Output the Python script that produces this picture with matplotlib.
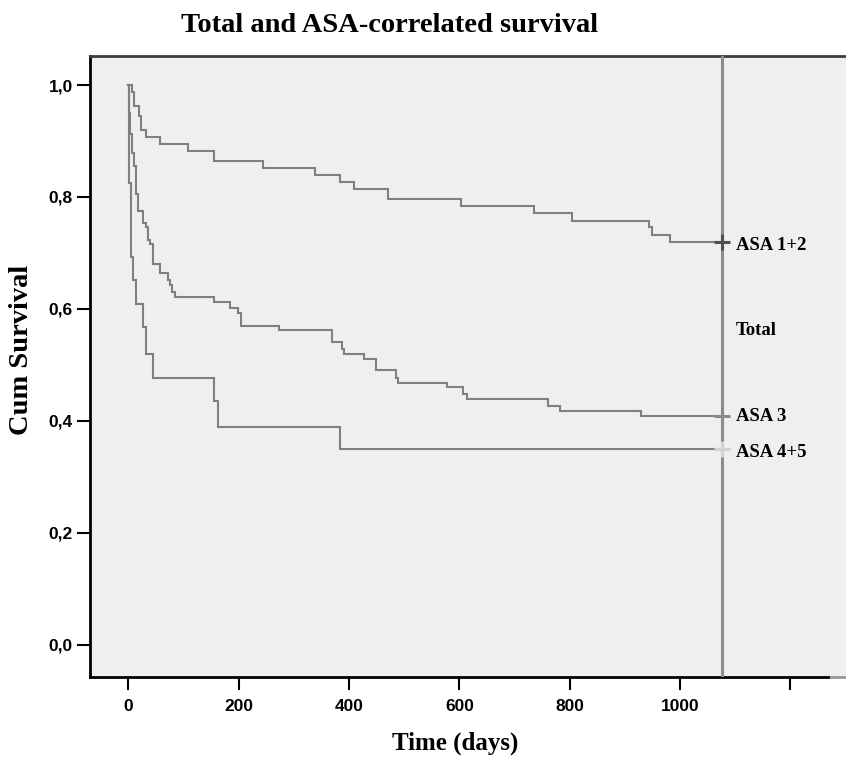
import matplotlib

matplotlib.use("Agg")
import matplotlib.pyplot as plt

# Kaplan-Meier step points (day of drop, survival after the drop)
asa12_days = [0, 5.7, 9.4, 18.4, 22, 31, 58, 107, 155, 243, 339, 383.5, 409.5,
              471, 603, 735, 805, 943, 949, 981]
asa12_surv = [1.0, 0.988, 0.962, 0.945, 0.920, 0.907, 0.894, 0.882, 0.864, 0.851,
              0.839, 0.826, 0.814, 0.796, 0.783, 0.771, 0.757, 0.746, 0.732, 0.719]

asa3_days = [0, 1, 3, 5.7, 9.4, 13, 17.8, 25.7, 31.1, 34.8, 39.6, 43.8, 57.1, 71,
             75.2, 78.9, 84.3, 155, 184, 198.5, 203.4, 272.8, 369.6, 386.5, 390.7,
             427.6, 448.8, 485, 489, 577, 607, 614.3, 761, 782, 929]
asa3_surv = [1.0, 0.95, 0.912, 0.878, 0.855, 0.805, 0.775, 0.754, 0.746, 0.724,
             0.716, 0.681, 0.664, 0.651, 0.642, 0.631, 0.622, 0.613, 0.601, 0.592,
             0.570, 0.562, 0.541, 0.529, 0.520, 0.511, 0.490, 0.477, 0.468, 0.460,
             0.448, 0.439, 0.426, 0.418, 0.409]

asa45_days = [0, 0.3, 1, 4.5, 8.8, 13, 27, 31, 43.8, 155, 162, 383.5]
asa45_surv = [1.0, 0.912, 0.825, 0.693, 0.651, 0.609, 0.567, 0.519, 0.477, 0.435,
              0.388, 0.350]

censor_day = 1077
curve_names = ["ASA 1+2", "ASA 3", "ASA 4+5"]
censor_colors = ["#505050", "#8a8a8a", "#d2d2d2"]
label_levels = [0.713, 0.407, 0.343]
total_label_level = 0.561

x_ticks = [0, 200, 400, 600, 800, 1000, 1200]
x_tick_labels = ["0", "200", "400", "600", "800", "1000", ""]
y_ticks = [0.0, 0.2, 0.4, 0.6, 0.8, 1.0]
y_tick_labels = ["0,0", "0,2", "0,4", "0,6", "0,8", "1,0"]

serif = "Liberation Serif"
sans = "Liberation Sans"

fig = plt.figure(figsize=(8.46, 7.62), dpi=100)
ax = fig.add_axes([90 / 846, 1 - 677 / 762, 756 / 846, 621 / 762])
ax.set_facecolor("#efefef")

series = [(asa12_days, asa12_surv), (asa3_days, asa3_surv), (asa45_days, asa45_surv)]
for (days, surv), color in zip(series, censor_colors):
    ax.step(days + [censor_day], surv + [surv[-1]], where="post",
            color="#808080", linewidth=1.5, solid_joinstyle="miter")

ax.axvline(censor_day, color="#8c8c8c", linewidth=2.2, zorder=3)

for (days, surv), color in zip(series, censor_colors):
    ax.plot([censor_day], [surv[-1]], marker="+", color=color, markersize=12,
            markeredgewidth=2.2, zorder=4)

for name, level in zip(curve_names, label_levels):
    ax.text(censor_day + 24, level, name, fontsize=13.5, fontweight="bold",
            family=serif, va="center", ha="left")
ax.text(censor_day + 24, total_label_level, "Total", fontsize=13.5, fontweight="bold",
        family=serif, va="center", ha="left")

ax.set_xlim(-69.8, 1301)
ax.set_ylim(-0.058, 1.052)
ax.set_xticks(x_ticks)
ax.set_xticklabels(x_tick_labels)
ax.set_yticks(y_ticks)
ax.set_yticklabels(y_tick_labels)
ax.tick_params(axis="both", direction="out", length=9.5, width=1.5, color="black")
ax.tick_params(axis="x", pad=6)
ax.tick_params(axis="y", pad=3)
for label in ax.get_xticklabels() + ax.get_yticklabels():
    label.set_fontfamily(sans)
    label.set_fontweight("bold")
    label.set_fontsize(12.5)

ax.spines["right"].set_visible(False)
ax.spines["left"].set_linewidth(2.0)
ax.spines["left"].set_color("black")
ax.spines["top"].set_linewidth(2.0)
ax.spines["top"].set_color("#3c3c3c")
ax.spines["bottom"].set_linewidth(2.0)
ax.spines["bottom"].set_color("black")
ax.spines["bottom"].set_bounds(-69.8, 1268)
ax.plot([1268, 1301], [-0.058, -0.058], color="#999999", linewidth=2.0,
        clip_on=False, solid_capstyle="butt")

fig.text(390 / 846, 1 - 26 / 762, "Total and ASA-correlated survival", fontsize=20.5,
         fontweight="bold", family=serif, ha="center", va="center")
fig.text(455 / 846, 1 - 743 / 762, "Time (days)", fontsize=18,
         fontweight="bold", family=serif, ha="center", va="center")
fig.text(22 / 846, 1 - 350 / 762, "Cum Survival", fontsize=20.5, rotation=90,
         fontweight="bold", family=serif, ha="center", va="center")

fig.savefig("out.png", dpi=100)
